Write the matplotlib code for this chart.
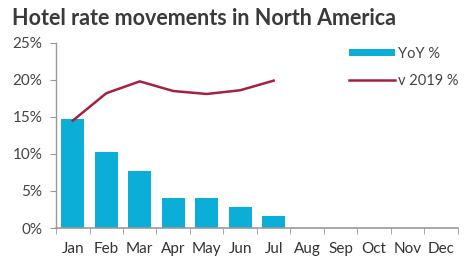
import numpy as np
import matplotlib
matplotlib.use("Agg")
import matplotlib.pyplot as plt
from matplotlib.ticker import FixedLocator

plt.rcParams['font.family'] = ['Lato', 'DejaVu Sans']

months = ["Jan", "Feb", "Mar", "Apr", "May", "Jun", "Jul", "Aug", "Sep", "Oct", "Nov", "Dec"]
yoy = [14.7, 10.3, 7.7, 4.0, 4.1, 2.8, 1.6]
v2019 = [14.5, 18.2, 19.8, 18.5, 18.1, 18.6, 19.9]

fig = plt.figure(figsize=(4.71, 2.63), dpi=100)
ax = fig.add_axes([0.119, 0.133, 0.853, 0.704])

x = np.arange(len(months))
bars = ax.bar(x[:len(yoy)], yoy, width=0.68, color="#0aaed6", label="YoY %", zorder=2)
line, = ax.plot(x[:len(v2019)], v2019, color="#a4223f", lw=1.8, label="v 2019 %", zorder=3)

ax.set_xlim(-0.5, len(months) - 0.5)
ax.set_ylim(0, 25)
ax.set_yticks([0, 5, 10, 15, 20, 25])
ax.set_yticklabels([f"{v}%" for v in [0, 5, 10, 15, 20, 25]])
ax.set_xticks(x)
ax.set_xticklabels(months)
ax.xaxis.set_minor_locator(FixedLocator(np.arange(-0.5, len(months), 1)))
ax.tick_params(axis="x", which="major", length=0, pad=10, labelsize=11, colors="#333333")
ax.tick_params(axis="x", which="minor", length=4, color="#999999", direction="out")
ax.tick_params(axis="y", length=4, labelsize=11, colors="#444444", pad=6)
ax.tick_params(axis="y", color="#999999")

for s in ["top", "right"]:
    ax.spines[s].set_visible(False)
ax.spines["left"].set_color("#999999")
ax.spines["bottom"].set_color("#999999")
ax.spines["left"].set_linewidth(1.0)
ax.spines["bottom"].set_linewidth(1.2)

leg = ax.legend([bars, line], ["YoY %", "v 2019 %"], loc="upper right",
                bbox_to_anchor=(1.035, 1.05), frameon=False,
                fontsize=10.5, handlelength=3.2, handleheight=0.45, handletextpad=0.2,
                labelspacing=0.9, labelcolor="#444444")

fig.text(0.025, 0.905, "Hotel rate movements in North America", fontsize=15.5,
         fontweight="bold", color="#3a3a3a")

fig.savefig("out.png", dpi=100)
